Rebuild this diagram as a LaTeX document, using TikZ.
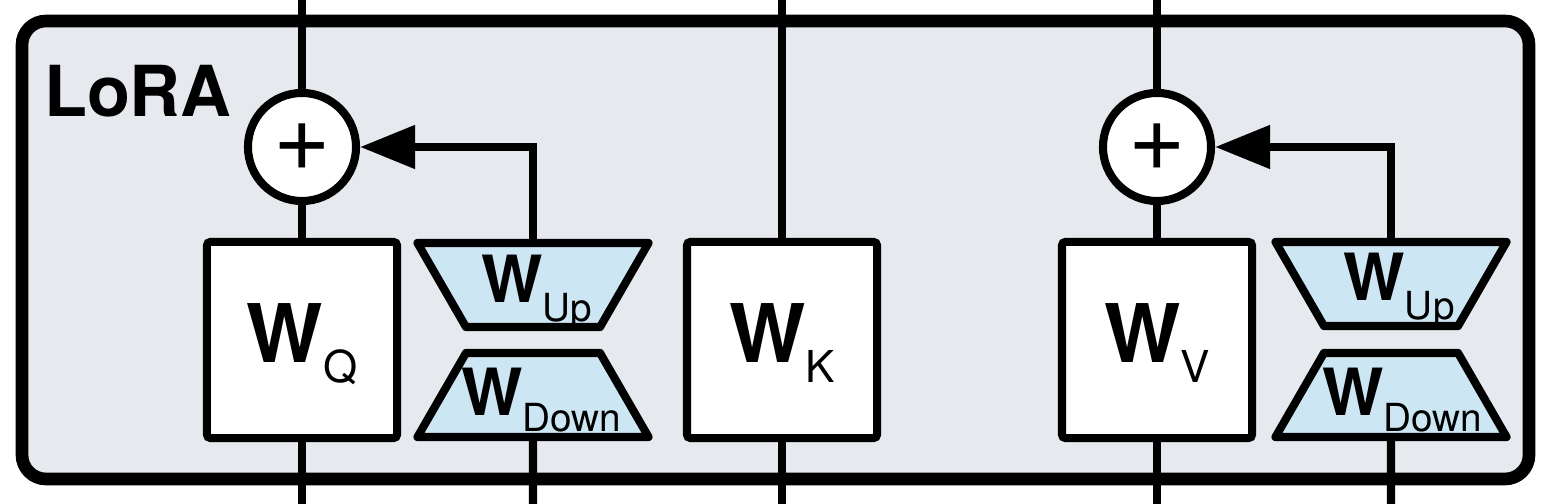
\documentclass[tikz,border=0pt]{standalone}
\usepackage{fontspec}
\setmainfont{TeX Gyre Heros}
\usetikzlibrary{shapes.geometric,arrows.meta}
\definecolor{loragray}{RGB}{230,233,238}
\definecolor{lorablue}{RGB}{205,230,244}
\newcommand{\bigW}[1]{{\fontsize{23}{23}\selectfont\bfseries W}\raisebox{-5.7pt}{\fontsize{12.5}{12.5}\selectfont #1}}
\newcommand{\smallW}[2][5.4pt]{{\fontsize{18.5}{18.5}\selectfont\bfseries W}\raisebox{-#1}{\fontsize{11}{11}\selectfont #2}}

\begin{document}
\begin{tikzpicture}[x=0.01cm, y=-0.01cm, line width=2.3pt,
        weight/.style={draw, fill=white, minimum width=1.9cm, minimum height=1.96cm, inner sep=0, rounded corners=1pt,
                text height=19pt, text depth=6pt},
        adder/.style={draw, circle, fill=white, minimum size=1.08cm, inner sep=0, font=\fontsize{28}{28}\selectfont},
        upmat/.style={draw, fill=lorablue, trapezium, trapezium left angle=120, trapezium right angle=120,
                text width=1.34cm, text height=0.84cm, text depth=0pt, inner sep=0, line join=round},
        downmat/.style={upmat, trapezium left angle=60, trapezium right angle=60},
        matlabel/.style={anchor=base, inner sep=0}]
        \useasboundingbox (0,0) rectangle (1564,504);

        \draw[line width=3.6pt, fill=loragray, rounded corners=0.24cm] (22,21) rectangle (1529,479);
        \node[anchor=base west, inner sep=0, font=\fontsize{20}{20}\selectfont\bfseries] at (40,117) (title) {LoRA};

        \coordinate (inQ) at (302,0);
        \coordinate (outQ) at (302,504);
        \coordinate (outDQ) at (533,504);
        \coordinate (inK) at (782,0);
        \coordinate (outK) at (782,504);
        \coordinate (inV) at (1157,0);
        \coordinate (outV) at (1157,504);
        \coordinate (outDV) at (1391,504);

        \node[adder] at (302,147) (plusQ) {+};
        \node[weight] at (302,340) (wQ) {\bigW{Q}};
        \node[upmat] at (533,285) (upQ) {};
        \node[downmat] at (533,395) (downQ) {};
        \node[matlabel] at (537,303) (upQlab) {\smallW{Up}};
        \node[matlabel] at (541,416) (downQlab) {\smallW[4.4pt]{Down}};
        \node[weight] at (782,340) (wK) {\bigW{K}};
        \node[adder] at (1157,147) (plusV) {+};
        \node[weight] at (1157,340) (wV) {\bigW{V}};
        \node[upmat] at (1391,284) (upV) {};
        \node[downmat] at (1391,395) (downV) {};
        \node[matlabel] at (1399,301) (upVlab) {\smallW{Up}};
        \node[matlabel] at (1402,416) (downVlab) {\smallW[4.4pt]{Down}};

        \draw (inQ) -- (plusQ);
        \draw (plusQ) -- (wQ);
        \draw (wQ) -- (outQ);
        \draw (downQ) -- (outDQ);
        \draw[-{Triangle[length=0.55cm,width=0.42cm]}] (upQ.north) |- (plusQ);
        \draw (inK) -- (wK);
        \draw (wK) -- (outK);
        \draw (inV) -- (plusV);
        \draw (plusV) -- (wV);
        \draw (wV) -- (outV);
        \draw (downV) -- (outDV);
        \draw[-{Triangle[length=0.55cm,width=0.42cm]}] (upV.north) |- (plusV);

        \end{tikzpicture}
\end{document}
